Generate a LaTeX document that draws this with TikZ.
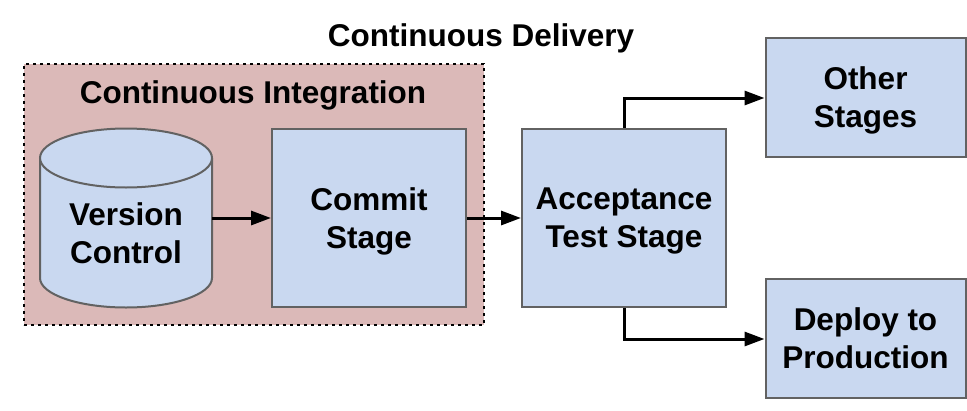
\documentclass[tikz,border=0pt]{standalone}
\usepackage{fontspec}
\setmainfont{Liberation Sans}
\usetikzlibrary{arrows.meta}
\definecolor{cipink}{HTML}{DBB9B8}
\definecolor{boxblue}{HTML}{C9D8F0}
\definecolor{boxline}{HTML}{626262}
\tikzset{
  txt/.style={font=\fontsize{31.5}{38}\selectfont\bfseries, text=black, align=center, inner sep=0pt},
  stagebox/.style={draw=boxline, line width=2pt, fill=boxblue, txt, text depth=0pt},
  conn/.style={line width=3pt, -{Triangle[length=20pt,width=14pt]}},
}
\begin{document}
\begin{tikzpicture}[x=1pt,y=1pt]
\useasboundingbox (0,0) rectangle (967,-410);
% CI container
\node[draw=black, line width=2.8pt, dash pattern=on 2.6pt off 4.4pt, fill=cipink,
      minimum width=460pt, minimum height=261pt, inner sep=0pt] (ci) at (254,-194.5) {};
\node[txt, anchor=base] (cititle) at (253,-103) {Continuous Integration};
\node[txt, anchor=base] (cdtitle) at (481,-46) {Continuous Delivery};
% cylinder
\fill[boxblue] (40,-158) -- (40,-278) arc[start angle=180,end angle=360,x radius=86pt,y radius=29.5pt] -- (212,-158) -- cycle;
\draw[boxline, line width=2pt] (40,-158) -- (40,-278) arc[start angle=180,end angle=360,x radius=86pt,y radius=29.5pt] -- (212,-158);
\draw[boxline, line width=2pt, fill=boxblue] (126,-158) ellipse[x radius=86pt, y radius=29.5pt];
\node[minimum width=172pt, minimum height=178pt, inner sep=0pt] (vc) at (126,-218) {};
\node[txt, text depth=0pt] (vclabel) at (126,-233) {Version\\Control};
% stages
\node[stagebox, minimum width=194pt, minimum height=178pt] (commit) at (369,-218) {Commit\\Stage};
\node[stagebox, minimum width=204pt, minimum height=178pt] (accept) at (624,-218) {Acceptance\\Test Stage};
\node[stagebox, minimum width=200pt, minimum height=119pt] (other) at (865.5,-97.5) {Other\\Stages};
\node[stagebox, minimum width=200pt, minimum height=119pt] (deploy) at (865.5,-338.5) {Deploy to\\Production};
% connectors
\draw[conn] (vc.east) -- (commit.west);
\draw[conn] (commit.east) -- (accept.west);
\draw[conn] (accept.north) -- (accept.north |- 0,-98) -- (other.west |- 0,-98);
\draw[conn] (accept.south) -- (accept.south |- 0,-339) -- (deploy.west |- 0,-339);
\end{tikzpicture}
\end{document}
